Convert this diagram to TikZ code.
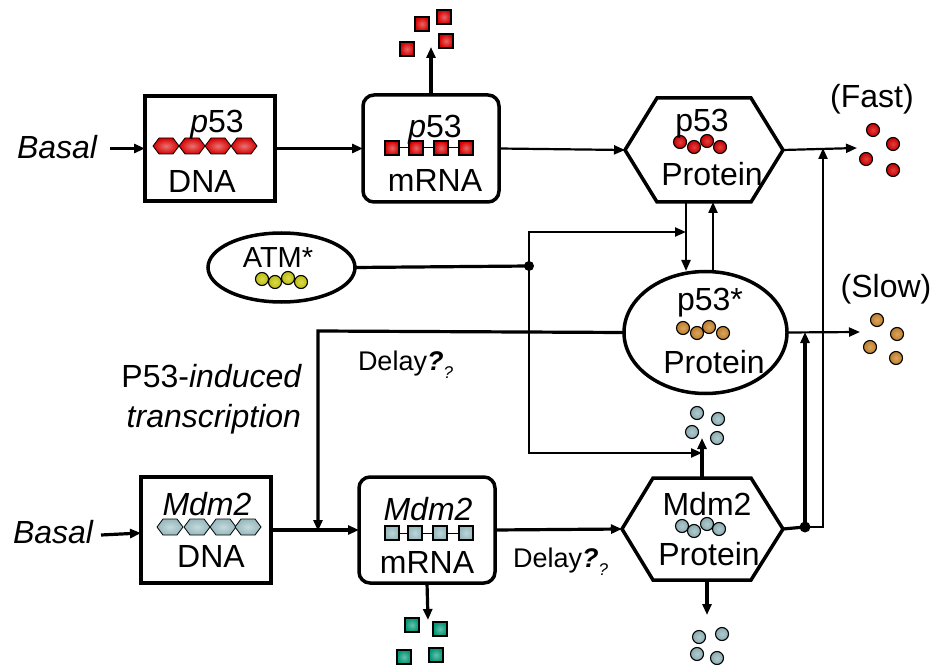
\documentclass[tikz,border=0pt]{standalone}
\usepackage{fontspec}
\setmainfont{Liberation Sans}
\usetikzlibrary{arrows.meta,shapes.geometric,calc}
\definecolor{pred}{RGB}{215,0,0}
\definecolor{mgray}{RGB}{150,185,190}
\definecolor{mgreen}{RGB}{0,150,115}
\definecolor{porange}{RGB}{205,135,45}
\definecolor{ayellow}{RGB}{205,205,20}
\tikzset{
  lbl/.style={inner sep=0pt, outer sep=0pt, font=\fontsize{32}{34}\selectfont},
  smlbl/.style={inner sep=0pt, outer sep=0pt, font=\fontsize{27}{29}\selectfont},
  boxnode/.style={draw, line width=3.5pt, inner sep=0pt, outer sep=0pt},
  hexnode/.style={inner sep=0pt, outer sep=0pt},
  hexline/.style={line width=3.5pt, line join=miter},
  tip/.style={-{Triangle[length=11pt,width=9pt]}},
  thickarr/.style={tip, line width=3.2pt},
  thinarr/.style={tip, line width=2.2pt},
  thickline/.style={line width=3.2pt},
}
\newcommand\molball[3]{\shade[inner color=#3!75!white, outer color=#3!92!black] (#1,#2) circle (6.5pt); \draw[line width=1.1pt] (#1,#2) circle (6.5pt);}
\newcommand\molsq[3]{\shade[inner color=#3!60!white, outer color=#3] ({#1-7},{#2-7}) rectangle ({#1+7},{#2+7}); \draw[line width=1.1pt] ({#1-7},{#2-7}) rectangle ({#1+7},{#2+7});}
\newcommand\molhex[3]{\shade[inner color=#3!55!white, outer color=#3] ({#1-13},#2) -- ({#1-7},{#2-8}) -- ({#1+7},{#2-8}) -- ({#1+13},#2) -- ({#1+7},{#2+8}) -- ({#1-7},{#2+8}) -- cycle; \draw[line width=0.8pt] ({#1-13},#2) -- ({#1-7},{#2-8}) -- ({#1+7},{#2-8}) -- ({#1+13},#2) -- ({#1+7},{#2+8}) -- ({#1-7},{#2+8}) -- cycle;}
\begin{document}
\begin{tikzpicture}[x=1pt,y=-1pt]
\useasboundingbox (0,0) rectangle (931,668);

% ---------- boxes ----------
\node[boxnode, minimum width=130pt, minimum height=105pt] (dna1) at (210,148.5) {};
\node[boxnode, rounded corners=11pt, minimum width=136pt, minimum height=107pt] (mrna1) at (431,148.5) {};
\node[hexnode, minimum width=158pt, minimum height=104pt] (p53p) at (704,150) {};
\node[boxnode, ellipse, minimum width=163pt, minimum height=122pt] (p53s) at (705.5,332.5) {};
\node[boxnode, ellipse, minimum width=147pt, minimum height=69pt] (atm) at (281.5,267.5) {};
\node[boxnode, minimum width=130pt, minimum height=106pt] (dna2) at (206,530) {};
\node[boxnode, rounded corners=11pt, minimum width=136pt, minimum height=106pt] (mrna2) at (427,530) {};
\node[hexnode, minimum width=161pt, minimum height=102pt] (mdm2p) at (702.5,529) {};

\draw[hexline] (p53p.west) -- ($(p53p.north west)+(32,0)$) -- ($(p53p.north east)+(-32,0)$) -- (p53p.east) -- ($(p53p.south east)+(-32,0)$) -- ($(p53p.south west)+(32,0)$) -- cycle;
\draw[hexline] (mdm2p.west) -- ($(mdm2p.north west)+(31,0)$) -- ($(mdm2p.north east)+(-32,0)$) -- (mdm2p.east) -- ($(mdm2p.south east)+(-32,0)$) -- ($(mdm2p.south west)+(31,0)$) -- cycle;

% ---------- molecules ----------
\foreach \x in {166,192,218,244} {\molhex{\x}{146}{pred}}
\draw[line width=1pt] (392,148) -- (466,148);
\foreach \x in {392,416,441,466} {\molsq{\x}{148}{pred}}
\molsq{407}{49}{pred} \molsq{422}{24}{pred} \molsq{444}{17}{pred} \molsq{446}{41}{pred}
\molball{680}{142}{pred} \molball{694}{147}{pred} \molball{707}{141}{pred} \molball{720}{147}{pred}
\molball{873}{130}{pred} \molball{893}{144}{pred} \molball{866}{159}{pred} \molball{893}{170}{pred}
\molball{683}{328}{porange} \molball{697}{333}{porange} \molball{709}{327}{porange} \molball{723}{333}{porange}
\molball{877}{320}{porange} \molball{897}{334}{porange} \molball{870}{347}{porange} \molball{896}{358}{porange}
\molball{262}{279}{ayellow} \molball{275}{282}{ayellow} \molball{288}{278}{ayellow} \molball{301}{282}{ayellow}
\foreach \x in {170,197,223,248} {\molhex{\x}{527}{mgray}}
\draw[line width=1pt] (392,533) -- (466,533);
\foreach \x in {392,415,440,466} {\molsq{\x}{533}{mgray}}
\molsq{412}{625}{mgreen} \molsq{440}{629}{mgreen} \molsq{404}{657}{mgreen} \molsq{436}{655}{mgreen}
\molball{682}{526}{mgray} \molball{694}{531}{mgray} \molball{707}{524}{mgray} \molball{719}{529}{mgray}
\molball{697}{413}{mgray} \molball{718}{419}{mgray} \molball{692}{432}{mgray} \molball{717}{438}{mgray}
\molball{699}{637}{mgray} \molball{722}{634}{mgray} \molball{697}{654}{mgray} \molball{717}{658}{mgray}

% ---------- labels ----------
\node[lbl, anchor=base west] (basal1) at (17,159) {\textit{Basal}};
\node[lbl, anchor=base] (t1) at (217,133) {\textit{p}53};
\node[lbl, anchor=base] (t2) at (202,193) {DNA};
\node[lbl, anchor=base] (t3) at (435,138) {\textit{p}53};
\node[lbl, anchor=base] (t4) at (435,192) {mRNA};
\node[lbl, anchor=base] (t5) at (702,132) {p53};
\node[lbl, anchor=base] (t6) at (712,186) {Protein};
\node[lbl, anchor=base] (fast) at (872,108) {(Fast)};
\node[lbl, anchor=base] (t7) at (710,310) {p53*};
\node[lbl, anchor=base] (t8) at (714,373) {Protein};
\node[lbl, anchor=base] (slow) at (886,297) {(Slow)};
\node[lbl, anchor=base, font=\fontsize{29}{31}\selectfont] (t9) at (278,267) {ATM*};
\node[smlbl, anchor=base west] (delay1) at (358,370) {Delay\textbf{\textit{?}}\raisebox{-0.3em}{\fontsize{17}{18}\selectfont\textit{?}}};
\node[lbl, anchor=base east] (ind1) at (302,387) {P53-\textit{induced}};
\node[lbl, anchor=base east] (ind2) at (301,427) {\textit{transcription}};
\node[lbl, anchor=base west] (basal2) at (13,543) {\textit{Basal}};
\node[lbl, anchor=base] (t10) at (207,515) {\textit{Mdm2}};
\node[lbl, anchor=base] (t11) at (211,567) {DNA};
\node[lbl, anchor=base] (t12) at (428,520) {\textit{Mdm2}};
\node[lbl, anchor=base] (t13) at (427,573) {mRNA};
\node[smlbl, anchor=base west] (delay2) at (513,567) {Delay\textbf{\textit{?}}\raisebox{-0.3em}{\fontsize{17}{18}\selectfont\textit{?}}};
\node[lbl, anchor=base] (t14) at (707,515) {Mdm2};
\node[lbl, anchor=base] (t15) at (709,565) {Protein};

% ---------- named points ----------
\coordinate (j1) at (529,266);
\coordinate (j2) at (805,527);
\coordinate (fastin) at (857,148);
\coordinate (slowin) at (860,332);
\coordinate (p53up) at (431,47);
\coordinate (m2down) at (428,620);
\coordinate (m2pup) at (702,438);
\coordinate (m2pdown) at (707,615);
\coordinate (b1start) at (110,148.5);
\coordinate (b2start) at (101,535);

% ---------- connectors ----------
\draw[thickarr] (b1start) -- (dna1.west);
\draw[thickarr] (dna1.east) -- (mrna1.west);
\draw[thickarr] (mrna1.north) -- (p53up);
\draw[thinarr] (mrna1.east) -- (p53p.west);
\draw[thinarr] (p53p.east) -- (fastin);
\draw[thinarr] (686,202) -- (686,271);
\draw[thinarr] (713,272) -- (713,202);
\draw[thickline] (atm.east) -- (j1);
\fill (j1) circle (5pt);
\draw[thinarr] (j1) -- (529,232) -- (686,232);
\draw[thinarr] (j1) -- (529,453) -- (702,453);
\draw[thickarr] (p53s.west) -- (318,331) -- (318,531);
\draw[thinarr] (p53s.east) -- (slowin);
\draw[thickarr] (b2start) -- ($(dna2.west)+(0,3)$);
\draw[thickarr] (dna2.east) -- (mrna2.west);
\draw[thickarr] (mrna2.south) -- (m2down);
\draw[thickarr] (mrna2.east) -- (mdm2p.west);
\draw[thickarr] (mdm2p.north -| m2pup) -- (m2pup);
\draw[thickarr] (mdm2p.south -| m2pdown) -- (m2pdown);
\draw[thickline] (mdm2p.east) -- (j2);
\draw[thinarr] (j2) -- (823,527) -- (823,148);
\draw[line width=3.6pt, tip] (j2) -- (805,332);
\fill (j2) circle (5.5pt);
\end{tikzpicture}
\end{document}
